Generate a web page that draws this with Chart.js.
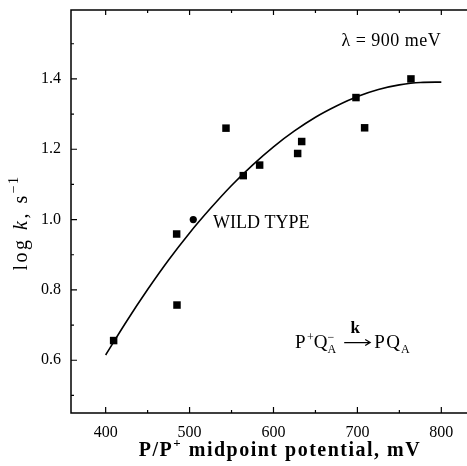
<!DOCTYPE html>
<html>
<head>
<meta charset="utf-8">
<script src="https://cdn.jsdelivr.net/npm/chart.js@4.4.0/dist/chart.umd.min.js"></script>
<style>
  html, body { margin: 0; padding: 0; background: #fff; }
</style>
</head>
<body>
<canvas id="chart" width="467" height="466"></canvas>
<script>
// mutants (squares) - midpoint potential (mV) vs log k
const potentials = [409.5, 484.6, 485, 543.4, 564, 583.5, 628.8, 633.6, 698.3, 708.6, 763.8];
const logK = [0.656, 0.959, 0.757, 1.26, 1.125, 1.155, 1.188, 1.222, 1.347, 1.261, 1.40];

// wild type (circle)
const wildX = [504.4];
const wildY = [1.0];

// theory curve
const fitX = [400, 425, 450, 475, 500, 525, 550, 575, 600, 625, 650, 675, 700, 725, 750, 775, 800];
const fitY = [0.615, 0.711, 0.801, 0.885, 0.962, 1.032, 1.097, 1.155, 1.207, 1.252, 1.291, 1.323, 1.350, 1.370, 1.383, 1.390, 1.391];

const xTicks = [400, 500, 600, 700, 800];
const xMinor = [450, 550, 650, 750];
const yTicks = [0.6, 0.8, 1.0, 1.2, 1.4];
const yMinor = [0.5, 0.7, 0.9, 1.1, 1.3, 1.5];

const serif = '"Liberation Serif", "Times New Roman", serif';

// draws a run of [text, font, dy, spacing] pieces starting at x, returns end x
function drawRun(ctx, parts, x, y) {
    parts.forEach(p => {
        ctx.font = p[1];
        ctx.letterSpacing = (p[3] || 0) + 'px';
        ctx.fillText(p[0], x, y + p[2]);
        x += ctx.measureText(p[0]).width;
    });
    ctx.letterSpacing = '0px';
    return x;
}

function runWidth(ctx, parts) {
    let w = 0;
    parts.forEach(p => {
        ctx.font = p[1];
        ctx.letterSpacing = (p[3] || 0) + 'px';
        w += ctx.measureText(p[0]).width;
    });
    ctx.letterSpacing = '0px';
    return w;
}

const framePlugin = {
    id: 'frame',
    afterDraw(chart) {
        const ctx = chart.ctx;
        const { left, top, right, bottom } = chart.chartArea;
        const xs = chart.scales.x, ys = chart.scales.y;
        ctx.save();
        ctx.strokeStyle = '#000';
        ctx.lineWidth = 1.5;
        ctx.beginPath();
        ctx.moveTo(right + 2, top); ctx.lineTo(left, top);
        ctx.lineTo(left, bottom); ctx.lineTo(right + 2, bottom);
        ctx.stroke();

        ctx.lineWidth = 1.2;
        ctx.beginPath();
        xTicks.forEach(v => {
            const px = xs.getPixelForValue(v);
            ctx.moveTo(px, bottom); ctx.lineTo(px, bottom - 6);
            ctx.moveTo(px, top); ctx.lineTo(px, top + 5);
        });
        xMinor.forEach(v => {
            const px = xs.getPixelForValue(v);
            ctx.moveTo(px, bottom); ctx.lineTo(px, bottom - 3);
            ctx.moveTo(px, top); ctx.lineTo(px, top + 3);
        });
        yTicks.forEach(v => {
            const py = ys.getPixelForValue(v);
            ctx.moveTo(left, py); ctx.lineTo(left + 6, py);
        });
        yMinor.forEach(v => {
            const py = ys.getPixelForValue(v);
            ctx.moveTo(left, py); ctx.lineTo(left + 3, py);
        });
        ctx.stroke();

        // axis titles
        ctx.fillStyle = '#000';
        ctx.textBaseline = 'alphabetic';
        const bigX = 'bold 20px ' + serif, supX = 'bold 13px ' + serif;
        const xParts = [['P/P', bigX, 0, 1.5], ['+', supX, -9, 1.5], [' midpoint potential, mV', bigX, 0, 1.5]];
        drawRun(ctx, xParts, 280 - runWidth(ctx, xParts) / 2, 456);

        ctx.save();
        ctx.translate(27, 223);
        ctx.rotate(-Math.PI / 2);
        const reg = '20px ' + serif, ita = 'italic 20px ' + serif, sup = '14px ' + serif;
        const yParts = [['log ', reg, 0, 2.5], ['k', ita, 0, 2.5], [', s', reg, 0, 2.5], ['\u22121', sup, -9, 1.5]];
        drawRun(ctx, yParts, -runWidth(ctx, yParts) / 2, 0);
        ctx.restore();
        ctx.restore();
    },
    afterDatasetsDraw(chart) {
        const ctx = chart.ctx;
        const xs = chart.scales.x, ys = chart.scales.y;
        ctx.save();
        ctx.fillStyle = '#000';
        ctx.strokeStyle = '#000';
        ctx.textBaseline = 'alphabetic';

        drawRun(ctx, [['WILD TYPE', '18px ' + serif, 0, 0]],
            xs.getPixelForValue(528), ys.getPixelForValue(0.977));

        drawRun(ctx, [['\u03bb = 900 meV', '18px ' + serif, 0, 0.5]],
            xs.getPixelForValue(681), ys.getPixelForValue(1.494));

        // reaction scheme P+QA- -> PQA
        const big = '19px ' + serif, small = '12px ' + serif;
        const yb = ys.getPixelForValue(0.636);
        let x = xs.getPixelForValue(625.6);
        x = drawRun(ctx, [['P', big, 0, 1.5], ['+', small, -7, 0], ['Q', big, 0, 1]], x, yb);
        ctx.font = small;
        ctx.fillText('\u2212', x - 1, yb - 7);
        ctx.fillText('A', x - 1, yb + 5);
        x += ctx.measureText('A').width + 7;
        // arrow
        const aw = 26, ay = yb - 5;
        ctx.lineWidth = 1.2;
        ctx.beginPath();
        ctx.moveTo(x, ay); ctx.lineTo(x + aw, ay);
        ctx.moveTo(x + aw - 5, ay - 3); ctx.lineTo(x + aw, ay); ctx.lineTo(x + aw - 5, ay + 3);
        ctx.stroke();
        ctx.textAlign = 'center';
        ctx.font = 'bold 17px ' + serif;
        ctx.fillText('k', x + aw / 2 - 2, yb - 15);
        ctx.textAlign = 'left';
        x += aw + 4;
        drawRun(ctx, [['P', big, 0, 1.5], ['Q', big, 0, 1], ['A', small, 5, 0]], x, yb);
        ctx.restore();
    }
};

new Chart(document.getElementById('chart').getContext('2d'), {
    type: 'scatter',
    data: {
        datasets: [
            {
                type: 'line',
                label: 'fit',
                data: fitX.map((x, i) => ({ x: x, y: fitY[i] })),
                borderColor: '#000',
                borderWidth: 1.6,
                pointRadius: 0,
                fill: false,
                cubicInterpolationMode: 'monotone'
            },
            {
                label: 'mutants',
                data: potentials.map((x, i) => ({ x: x, y: logK[i] })),
                pointStyle: 'rect',
                pointRadius: 5.3,
                backgroundColor: '#000',
                borderColor: '#000',
                borderWidth: 0
            },
            {
                label: 'wild type',
                data: wildX.map((x, i) => ({ x: x, y: wildY[i] })),
                pointStyle: 'circle',
                pointRadius: 3.6,
                backgroundColor: '#000',
                borderColor: '#000',
                borderWidth: 0
            }
        ]
    },
    options: {
        responsive: false,
        animation: false,
        devicePixelRatio: 1,
        layout: { autoPadding: false, padding: { top: 10, left: 0, right: 0, bottom: 0 } },
        plugins: {
            legend: { display: false },
            tooltip: { enabled: false }
        },
        scales: {
            x: {
                type: 'linear',
                min: 358.7,
                max: 830.6,
                grid: { display: false, drawTicks: false },
                border: { display: false },
                afterBuildTicks: s => { s.ticks = xTicks.map(v => ({ value: v })); },
                afterFit: s => { s.height = 53; s.paddingLeft = 0; s.paddingRight = 0; },
                ticks: {
                    color: '#000',
                    padding: 10,
                    maxRotation: 0,
                    font: { family: serif, size: 16 },
                    callback: v => String(v)
                }
            },
            y: {
                min: 0.45,
                max: 1.596,
                grid: { display: false, drawTicks: false },
                border: { display: false },
                afterBuildTicks: s => { s.ticks = yTicks.map(v => ({ value: v })); },
                afterFit: s => { s.width = 71; s.paddingTop = 0; s.paddingBottom = 0; },
                ticks: {
                    color: '#000',
                    padding: 10,
                    font: { family: serif, size: 16 },
                    callback: v => Number(v).toFixed(1)
                }
            }
        }
    },
    plugins: [framePlugin]
});
</script>
</body>
</html>
